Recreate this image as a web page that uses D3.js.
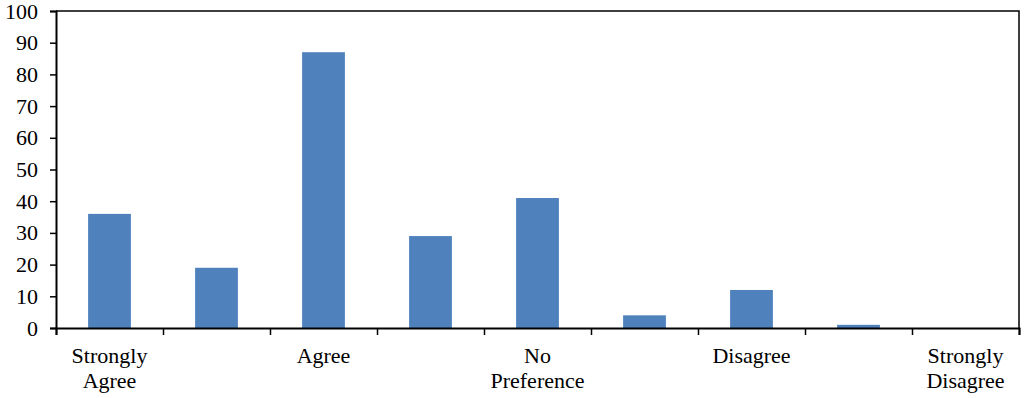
<!DOCTYPE html>
<html>
<head>
<meta charset="utf-8">
<script src="https://cdn.jsdelivr.net/npm/d3@7"></script>
</head>
<body style="margin:0; background:#fff">
<svg id="chart" width="1024" height="398"></svg>
<script>
// data
const categories = ["Strongly Agree", "c2", "Agree", "c4", "No Preference", "c6", "Disagree", "c8", "Strongly Disagree"];
const labels = [["Strongly", "Agree"], [], ["Agree"], [], ["No", "Preference"], [], ["Disagree"], [], ["Strongly", "Disagree"]];
const values = [36, 19, 87, 29, 41, 4, 12, 1, 0];
const yTicks = [0, 10, 20, 30, 40, 50, 60, 70, 80, 90, 100];

const FONT = "'Liberation Serif', 'Times New Roman', serif";
const margin = { left: 56, right: 5, top: 11, bottom: 70 };
const width = 1024, height = 398;

const svg = d3.select("#chart");

const x = d3.scaleBand()
    .domain(categories)
    .range([margin.left, width - margin.right])
    .paddingInner(0.6)
    .paddingOuter(0.3);

const y = d3.scaleLinear()
    .domain([0, 100])
    .range([height - margin.bottom, margin.top]);

// bars
svg.append("g")
  .selectAll("rect")
  .data(values)
  .enter().append("rect")
    .attr("x", (d, i) => x(categories[i]))
    .attr("width", x.bandwidth())
    .attr("y", d => y(d))
    .attr("height", d => y(0) - y(d))
    .attr("fill", "#4F81BD");

// frame (top + right)
svg.append("path")
    .attr("d", `M${margin.left},${y(100)}H${width - margin.right}V${y(0)}`)
    .attr("fill", "none")
    .attr("stroke", "#000")
    .attr("stroke-width", 1.5);

// y axis
const yAxis = svg.append("g")
    .attr("transform", `translate(${margin.left},0)`)
    .call(d3.axisLeft(y).tickValues(yTicks).tickSize(6).tickPadding(12));
yAxis.select(".domain").attr("stroke-width", 2);
yAxis.selectAll(".tick line").attr("stroke-width", 1.5);
yAxis.selectAll("text")
    .style("font-family", FONT)
    .style("font-size", "22px");

// x axis: ticks at category boundaries
const xEdge = d3.scaleLinear().domain([0, categories.length]).range([margin.left, width - margin.right]);
const xAxis = svg.append("g")
    .attr("transform", `translate(0,${y(0)})`)
    .call(d3.axisBottom(xEdge).tickValues(d3.range(0, categories.length + 1)).tickSize(7).tickFormat(""));
xAxis.select(".domain").attr("stroke-width", 2);
xAxis.selectAll(".tick line").attr("stroke-width", 1.5);

// category labels
const lab = svg.append("g")
  .selectAll("text")
  .data(labels)
  .enter().append("text")
    .attr("x", (d, i) => x(categories[i]) + x.bandwidth() / 2)
    .attr("y", 363)
    .attr("text-anchor", "middle")
    .style("font-family", FONT)
    .style("font-size", "22px");
lab.selectAll("tspan")
  .data(d => d)
  .enter().append("tspan")
    .attr("x", function () { return this.parentNode.getAttribute("x"); })
    .attr("dy", (d, i) => i === 0 ? 0 : 25)
    .text(d => d);
</script>
</body>
</html>
